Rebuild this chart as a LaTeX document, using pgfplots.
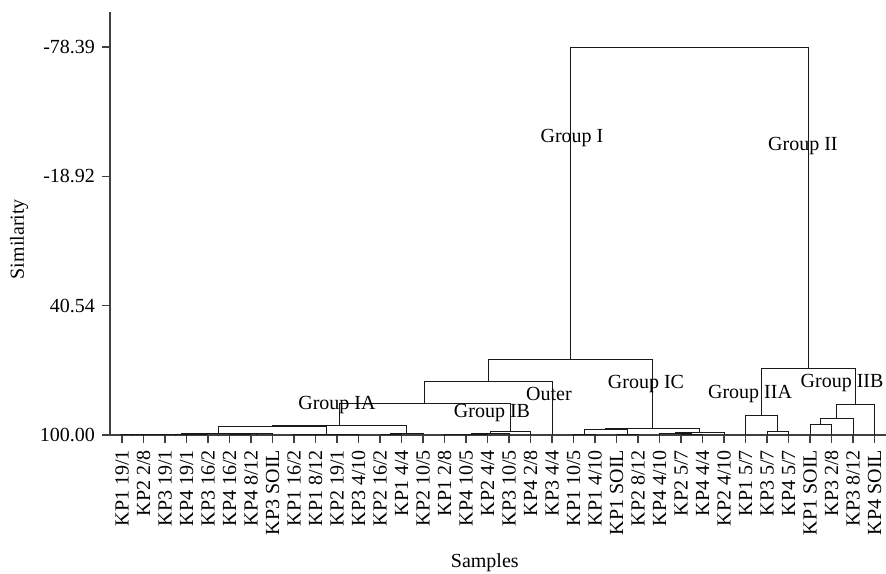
\documentclass[border=0pt]{standalone}
\usepackage{fontspec}
\setmainfont{Liberation Serif}
\usepackage{pgfplots}
\pgfplotsset{compat=1.18}

\begin{document}
\begin{tikzpicture}
\useasboundingbox (-55pt,-69pt) rectangle (388pt,217.5pt);
\begin{axis}[
    at={(0,0)}, anchor=south west,
    scale only axis, width=388pt, height=211.5pt,
    xmin=-0.558, xmax=35.535,
    ymin=-94.5, ymax=100, y dir=reverse,
    axis x line*=bottom, axis y line*=left,
    axis line style={draw=black!75, line width=0.7pt},
    tick style={draw=black!75, line width=0.6pt},
    tick align=outside, major tick length=4pt,
    clip=false,
    ytick={-78.39,-18.92,40.54,100},
    yticklabels={-78.39,-18.92,40.54,100.00},
    xtick={0,...,35},
    xticklabels={KP1 19/1,KP2 2/8,KP3 19/1,KP4 19/1,KP3 16/2,KP4 16/2,KP4 8/12,KP3 SOIL,
        KP1 16/2,KP1 8/12,KP2 19/1,KP3 4/10,KP2 16/2,KP1 4/4,KP2 10/5,KP1 2/8,
        KP4 10/5,KP2 4/4,KP3 10/5,KP4 2/8,KP3 4/4,KP1 10/5,KP1 4/10,KP1 SOIL,
        KP2 8/12,KP4 4/10,KP2 5/7,KP4 4/4,KP2 4/10,KP1 5/7,KP3 5/7,KP4 5/7,
        KP1 SOIL,KP3 2/8,KP3 8/12,KP4 SOIL},
    xticklabel style={rotate=90, anchor=east},
    xlabel={Samples},
    xlabel style={at={(axis description cs:0.483,0)}, anchor=center, yshift=-64pt},
    ylabel={Similarity},
    ylabel style={at={(axis description cs:-0.1173,0.463)}, anchor=center},
    dend/.style={black!90, line width=0.5pt, mark=none},
]
% leaf level joins, group IA
\addplot[dend] coordinates {(0,100) (0,99.9) (1,99.9) (1,100)};
\addplot[dend] coordinates {(2,100) (2,99.9) (3,99.9) (3,100)};
\addplot[dend] coordinates {(0.5,99.9) (0.5,99.8) (2.5,99.8) (2.5,99.9)};
\addplot[dend] coordinates {(1.5,99.8) (1.5,99.7) (4,99.7) (4,100)};
\addplot[dend] coordinates {(5,100) (5,99.6) (6,99.6) (6,100)};
\addplot[dend] coordinates {(5.5,99.6) (5.5,99.5) (7,99.5) (7,100)};
\addplot[dend] coordinates {(2.75,99.7) (2.75,99.4) (6.25,99.4) (6.25,99.5)};
\addplot[dend] coordinates {(8,100) (8,99.8) (9,99.8) (9,100)};
\addplot[dend] coordinates {(10,100) (10,99.9) (11,99.9) (11,100)};
\addplot[dend] coordinates {(8.5,99.8) (8.5,99.6) (10.5,99.6) (10.5,99.9)};
\addplot[dend] coordinates {(4.5,99.4) (4.5,96.0) (9.5,96.0) (9.5,99.6)};
\addplot[dend] coordinates {(12,100) (12,99.7) (13,99.7) (13,100)};
\addplot[dend] coordinates {(12.5,99.7) (12.5,99.5) (14,99.5) (14,100)};
\addplot[dend] coordinates {(7,96.0) (7,95.6) (13.25,95.6) (13.25,99.5)};
% group IB
\addplot[dend] coordinates {(15,100) (15,99.8) (16,99.8) (16,100)};
\addplot[dend] coordinates {(15.5,99.8) (15.5,99.6) (17,99.6) (17,100)};
\addplot[dend] coordinates {(16.25,99.6) (16.25,99.3) (18,99.3) (18,100)};
\addplot[dend] coordinates {(17.125,99.3) (17.125,98.4) (19,98.4) (19,100)};
% IA + IB, outer
\addplot[dend] coordinates {(10.125,95.6) (10.125,85.3) (18.0625,85.3) (18.0625,98.4)};
\addplot[dend] coordinates {(14.09,85.3) (14.09,75.6) (20,75.6) (20,100)};
% group IC
\addplot[dend] coordinates {(21,100) (21,99.8) (22,99.8) (22,100)};
\addplot[dend] coordinates {(23,100) (23,99.7) (24,99.7) (24,100)};
\addplot[dend] coordinates {(21.5,99.8) (21.5,97.5) (23.5,97.5) (23.5,99.7)};
\addplot[dend] coordinates {(26,100) (26,99.6) (27,99.6) (27,100)};
\addplot[dend] coordinates {(25,100) (25,99.3) (26.5,99.3) (26.5,99.6)};
\addplot[dend] coordinates {(25.75,99.3) (25.75,98.8) (28,98.8) (28,100)};
\addplot[dend] coordinates {(22.5,97.5) (22.5,97.0) (26.875,97.0) (26.875,98.8)};
% group I
\addplot[dend] coordinates {(17.05,75.6) (17.05,65.5) (24.6875,65.5) (24.6875,97.0)};
% group IIA
\addplot[dend] coordinates {(30,100) (30,98.3) (31,98.3) (31,100)};
\addplot[dend] coordinates {(29,100) (29,91.2) (30.5,91.2) (30.5,98.3)};
% group IIB
\addplot[dend] coordinates {(32,100) (32,95.2) (33,95.2) (33,100)};
\addplot[dend] coordinates {(32.5,95.2) (32.5,92.2) (34,92.2) (34,100)};
\addplot[dend] coordinates {(33.25,92.2) (33.25,85.8) (35,85.8) (35,100)};
% group II and root
\addplot[dend] coordinates {(29.75,91.2) (29.75,69.3) (34.125,69.3) (34.125,85.8)};
\addplot[dend] coordinates {(20.87,65.5) (20.87,-78.39) (31.9375,-78.39) (31.9375,69.3)};

\node at (axis cs:20.93,-36.6) {Group I};
\node at (axis cs:31.67,-32.8) {Group II};
\node at (axis cs:10.0,86.0) {Group IA};
\node at (axis cs:17.21,89.9) {Group IB};
\node at (axis cs:19.86,81.2) {Outer};
\node at (axis cs:24.37,76.4) {Group IC};
\node at (axis cs:29.21,81.2) {Group IIA};
\node at (axis cs:33.49,76.0) {Group IIB};
\end{axis}
\end{tikzpicture}
\end{document}
